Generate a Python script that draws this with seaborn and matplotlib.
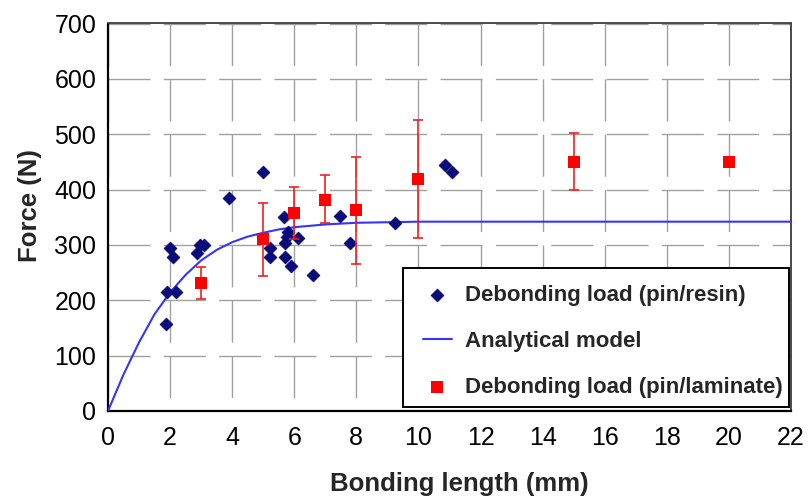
import matplotlib
matplotlib.use("Agg")
import matplotlib.pyplot as plt
from matplotlib.patches import Rectangle
import seaborn as sns
import pandas as pd

# Debonding load measured on pin/resin specimens
resin_length = [1.87, 1.90, 2.19, 2.00, 2.08, 2.88, 2.96, 3.09, 3.91, 5.00,
                5.22, 5.22, 5.67, 5.81, 5.76, 6.13, 5.70, 5.70, 5.91, 6.59,
                7.48, 7.80, 9.24, 10.85, 11.07]
resin_force = [157, 215, 215, 294, 279, 285, 300, 300, 384, 432,
               294, 279, 351, 324, 315, 312, 303, 279, 262, 246,
               353, 303, 340, 444, 432]

# Analytical model
model_length = [0, 0.5, 1, 1.5, 2, 2.5, 3, 3.5, 4, 4.5, 5, 5.5, 6, 7, 8, 9,
                10, 12, 14, 16, 18, 20, 22]
model_force = [0, 66, 124, 175, 214, 246, 272, 291, 305, 315, 322, 328, 332,
               337, 340, 341, 342, 342, 342, 342, 342, 342, 342]

# Debonding load measured on pin/laminate specimens (mean, min, max)
lam_length = [3, 5, 6, 7, 8, 10, 15, 20]
lam_force = [231, 310, 358, 381, 364, 419, 450, 450]
lam_low = [202, 243, 310, 339, 266, 312, 399, 450]
lam_high = [261, 376, 405, 426, 459, 526, 503, 450]

x_ticks = list(range(0, 23, 2))
y_ticks = list(range(0, 701, 100))

sns.set_theme(style="white")
plt.rcParams["font.family"] = ["Liberation Sans", "DejaVu Sans"]

fig = plt.figure(figsize=(8.08, 5.00), dpi=100)
ax = fig.add_axes([108 / 808, 89 / 500, 683 / 808, 387.5 / 500])

resin = pd.DataFrame({"length": resin_length, "force": resin_force})
model = pd.DataFrame({"length": model_length, "force": model_force})
lam = pd.DataFrame({"length": lam_length, "force": lam_force})

sns.scatterplot(data=resin, x="length", y="force", marker="D", s=40,
                color="#0b0b7a", edgecolor="#0b0b7a", linewidth=0.8,
                label="Debonding load (pin/resin)", ax=ax, zorder=4)
sns.lineplot(data=model, x="length", y="force", color="#3535f5", lw=1.5,
             label="Analytical model", ax=ax, zorder=3)

err_lo = [f - lo for f, lo in zip(lam_force, lam_low)]
err_hi = [hi - f for f, hi in zip(lam_force, lam_high)]
ax.errorbar(lam_length, lam_force, yerr=[err_lo, err_hi], fmt="none",
            ecolor="#f02020", elinewidth=1.2, capsize=3.8, capthick=1.2,
            zorder=4)
sns.scatterplot(data=lam, x="length", y="force", marker="s", s=80,
                color="#ff0000", edgecolor="#ff0000", linewidth=0,
                label="Debonding load (pin/laminate)", ax=ax, zorder=5)

ax.set_xlim(0, 22)
ax.set_ylim(0, 700)
ax.set_xticks(x_ticks)
ax.set_yticks(y_ticks)

# dashed grid, period equal to 100 N on the vertical scale
ax.grid(axis="x", color="#a0a0a0", lw=1.0, linestyle=(30.2, (30.2, 9.65)))
ax.grid(axis="y", color="#a0a0a0", lw=1.0, linestyle=(0, (30.2, 9.65)))
ax.set_axisbelow(True)

for side in ("left", "bottom"):
    ax.spines[side].set_color("black")
    ax.spines[side].set_linewidth(1.6)
for side in ("top", "right"):
    ax.spines[side].set_color("#3c3c3c")
    ax.spines[side].set_linewidth(1.3)

ax.tick_params(axis="both", direction="out", length=5.5, width=1.4,
               color="black", labelsize=18, labelcolor="black")
ax.tick_params(axis="x", pad=5)
ax.tick_params(axis="y", pad=3)

ax.set_xlabel("Bonding length (mm)", fontsize=18.5, fontweight="bold",
              labelpad=16)
ax.set_ylabel("Force (N)", fontsize=18.5, fontweight="bold", labelpad=9)
ax.xaxis.label.set_x(0.515)
ax.yaxis.label.set_y(0.53)

# legend box: white panel with a black border in the lower right corner
box = Rectangle((0.4319, 0.0103), 0.5652, 0.3587, transform=ax.transAxes,
                facecolor="white", edgecolor="black", lw=1.4, zorder=9)
ax.add_patch(box)

leg = ax.legend(loc="upper left", bbox_to_anchor=(0.4612, 0.3244),
                frameon=False, prop={"size": 16, "weight": "bold"},
                borderpad=0, borderaxespad=0, labelspacing=1.12,
                handlelength=1.3, handletextpad=0.6, markerscale=1.0)
leg.set_zorder(10)

fig.savefig("out.png", dpi=100)
